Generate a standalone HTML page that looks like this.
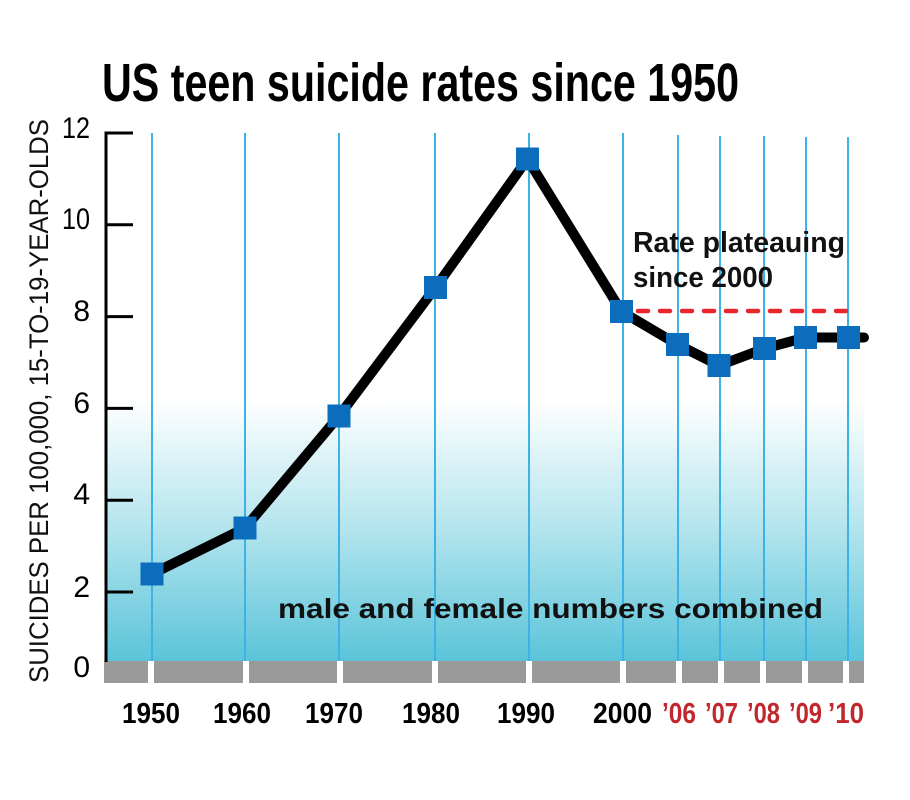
<!DOCTYPE html>
<html>
<head>
<meta charset="utf-8">
<style>
  html, body { margin: 0; padding: 0; background: #ffffff; }
  svg { display: block; }
  text { font-family: "Liberation Sans", "DejaVu Sans", sans-serif; }
</style>
</head>
<body>
<svg width="910" height="800" viewBox="0 0 910 800" xmlns="http://www.w3.org/2000/svg">
  <defs>
    <linearGradient id="bg" x1="0" y1="0" x2="0" y2="1">
      <stop offset="0" stop-color="#ffffff"/>
      <stop offset="0.5" stop-color="#b2e4ed"/>
      <stop offset="1" stop-color="#5bc4d9"/>
    </linearGradient>
  </defs>
  <rect x="0" y="0" width="910" height="800" fill="#ffffff"/>

  <!-- Title -->
  <text x="102" y="101" font-size="54" font-weight="bold" fill="#000" textLength="637" lengthAdjust="spacingAndGlyphs">US teen suicide rates since 1950</text>

  <!-- gradient plot area -->
  <rect x="106" y="400" width="758" height="261" fill="url(#bg)"/>

  <!-- vertical grid lines -->
  <g stroke="#3cb2e6" stroke-width="2">
    <line x1="152" y1="133" x2="152" y2="661"/>
    <line x1="245" y1="133" x2="245" y2="661"/>
    <line x1="339" y1="133" x2="339" y2="661"/>
    <line x1="435" y1="133" x2="435" y2="661"/>
    <line x1="529" y1="133" x2="529" y2="661"/>
    <line x1="623" y1="133" x2="623" y2="661"/>
    <line x1="678" y1="135" x2="678" y2="661"/>
    <line x1="720" y1="136" x2="720" y2="661"/>
    <line x1="764" y1="136" x2="764" y2="661"/>
    <line x1="806" y1="137" x2="806" y2="661"/>
    <line x1="848" y1="137" x2="848" y2="661"/>
  </g>

  <!-- gray band -->
  <rect x="104" y="661" width="760" height="22" fill="#9a9a9a"/>
  <g fill="#ffffff">
    <rect x="148" y="661" width="6" height="22"/>
    <rect x="243" y="661" width="6" height="22"/>
    <rect x="337" y="661" width="6" height="22"/>
    <rect x="432" y="661" width="6" height="22"/>
    <rect x="526" y="661" width="6" height="22"/>
    <rect x="620" y="661" width="6" height="22"/>
    <rect x="676" y="661" width="6" height="22"/>
    <rect x="718" y="661" width="6" height="22"/>
    <rect x="760" y="661" width="6" height="22"/>
    <rect x="802" y="661" width="6" height="22"/>
    <rect x="843" y="661" width="6" height="22"/>
  </g>

  <!-- y axis -->
  <g stroke="#000" stroke-width="3">
    <line x1="106" y1="131.5" x2="106" y2="662"/>
    <line x1="105" y1="133" x2="133" y2="133"/>
    <line x1="105" y1="224.8" x2="133" y2="224.8"/>
    <line x1="105" y1="316.6" x2="133" y2="316.6"/>
    <line x1="105" y1="408.4" x2="133" y2="408.4"/>
    <line x1="105" y1="500.2" x2="133" y2="500.2"/>
    <line x1="105" y1="592" x2="133" y2="592"/>
  </g>
  <g font-size="30" fill="#000" text-anchor="end">
    <text x="90" y="138" textLength="28" lengthAdjust="spacingAndGlyphs">12</text>
    <text x="90" y="229" textLength="28" lengthAdjust="spacingAndGlyphs">10</text>
    <text x="90" y="321">8</text>
    <text x="90" y="413">6</text>
    <text x="90" y="504">4</text>
    <text x="90" y="597">2</text>
    <text x="90" y="677">0</text>
  </g>

  <!-- y axis title -->
  <text transform="translate(48,683) rotate(-90)" x="0" y="0" font-size="27" fill="#111" textLength="564" lengthAdjust="spacingAndGlyphs">SUICIDES PER 100,000, 15-TO-19-YEAR-OLDS</text>

  <!-- annotation texts -->
  <text x="633" y="252" font-size="29" font-weight="bold" fill="#111" textLength="212" lengthAdjust="spacingAndGlyphs">Rate plateauing</text>
  <text x="633" y="287" font-size="29" font-weight="bold" fill="#111" textLength="140" lengthAdjust="spacingAndGlyphs">since 2000</text>
  <text x="278" y="618" font-size="28" font-weight="bold" fill="#111" textLength="545" lengthAdjust="spacingAndGlyphs">male and female numbers combined</text>

  <!-- dashed red line -->
  <line x1="638" y1="311" x2="858" y2="311" stroke="#e8262b" stroke-width="4.5" stroke-dasharray="10 12" stroke-linecap="round"/>

  <!-- data line -->
  <polyline fill="none" stroke="#000" stroke-width="10" stroke-linejoin="round" stroke-linecap="round"
    points="152,574 245,528 339,416 435.5,287.5 527.5,159 621.5,311.5 677.5,344.5 719,365.5 764.5,348.5 805.5,337.5 848.5,337.5 864,337.5"/>

  <!-- markers -->
  <g fill="#0b6dbb">
    <rect x="140.5" y="562.5" width="23" height="23"/>
    <rect x="233.5" y="516.5" width="23" height="23"/>
    <rect x="327.5" y="404.5" width="23" height="23"/>
    <rect x="424" y="276" width="23" height="23"/>
    <rect x="516" y="147.5" width="23" height="23"/>
    <rect x="610" y="300" width="23" height="23"/>
    <rect x="666" y="333" width="23" height="23"/>
    <rect x="707.5" y="354" width="23" height="23"/>
    <rect x="753" y="337" width="23" height="23"/>
    <rect x="794" y="326" width="23" height="23"/>
    <rect x="837" y="326" width="23" height="23"/>
  </g>

  <!-- x labels -->
  <g font-size="29" font-weight="bold" fill="#000">
    <text x="122" y="723" textLength="58" lengthAdjust="spacingAndGlyphs">1950</text>
    <text x="213" y="723" textLength="58" lengthAdjust="spacingAndGlyphs">1960</text>
    <text x="305" y="723" textLength="58" lengthAdjust="spacingAndGlyphs">1970</text>
    <text x="402" y="723" textLength="58" lengthAdjust="spacingAndGlyphs">1980</text>
    <text x="497" y="723" textLength="58" lengthAdjust="spacingAndGlyphs">1990</text>
    <text x="593" y="723" textLength="59" lengthAdjust="spacingAndGlyphs">2000</text>
  </g>
  <g font-size="29" font-weight="bold" fill="#c1272d">
    <text x="662" y="723" textLength="34" lengthAdjust="spacingAndGlyphs">’06</text>
    <text x="705" y="723" textLength="33" lengthAdjust="spacingAndGlyphs">’07</text>
    <text x="747" y="723" textLength="33" lengthAdjust="spacingAndGlyphs">’08</text>
    <text x="789" y="723" textLength="33" lengthAdjust="spacingAndGlyphs">’09</text>
    <text x="828" y="723" textLength="36" lengthAdjust="spacingAndGlyphs">’10</text>
  </g>
</svg>
</body>
</html>
